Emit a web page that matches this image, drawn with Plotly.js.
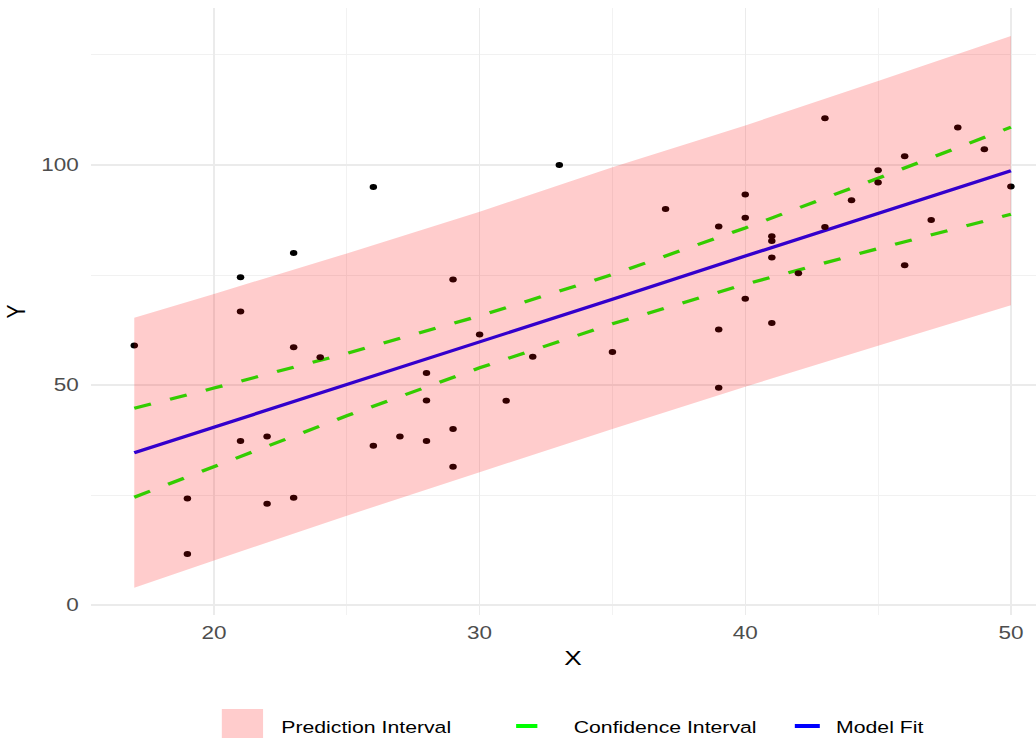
<!DOCTYPE html>
<html><head><meta charset="utf-8">
<script src="https://cdn.plot.ly/plotly-3.0.1.min.js"></script>
<style>
html,body{margin:0;padding:0;background:#fff;overflow:hidden;width:1036px;height:738px;}
#chart{width:844px;height:738px;transform:scaleX(1.2497);transform-origin:0 0;}
</style>
</head><body><div id="chart"></div>
<script>
// Observed points
const obsX = [17,19,19,21,21,21,22,22,23,23,23,24,26,26,27,28,28,28,29,29,29,30,31,32,33,35,37,39,39,39,40,40,40,41,41,41,41,42,43,43,44,45,45,46,46,47,48,49,50];
const obsY = [59,24.2,11.6,74.5,66.7,37.3,38.3,23,80,58.6,24.4,56.3,95,36.2,38.3,52.7,46.5,37.3,74,40,31.4,61.5,46.4,56.4,100,57.5,90,86,62.6,49.4,93.3,88,69.6,83.8,82.7,79,64.1,75.4,110.6,85.9,92,98.8,96,102,77.2,87.5,108.5,103.6,95.1];
// Fitted model & intervals
const gridX = [17,20,25,30,35,40,45,50];
const fitY = [34.6,40.4,50.1,59.8,69.5,79.3,89.0,98.7];
const confUpper = [44.7,49.3,57.2,65.7,75.1,85.7,97.0,108.6];
const confLower = [24.5,31.5,43.0,53.9,63.9,72.9,81.0,88.8];
const predUpper = [65.3,70.7,79.9,89.4,99.5,109.0,119.1,129.3];
const predLower = [3.9,10.1,20.3,30.2,40.0,49.6,58.9,68.1];
// Ticks and labels
const xTicks = [20,30,40,50];
const xMinor = [25,35,45];
const yTicks = [0,50,100];
const yMinor = [25,75,125];
const legendNames = ["Prediction Interval","Confidence Interval","Model Fit"];
const xTitle = "X", yTitle = "Y";

const FONT = "Liberation Sans, Arial, sans-serif";
const W = 844, H = 738, ML = 73, MR = 0, MT = 8, MB = 123;
const PW = W - ML - MR, PH = H - MT - MB;
const px = v => (v - ML) / PW;          // layout pixel -> paper x
const py = v => (H - MB - v) / PH;      // layout pixel -> paper y

const C_PRED = 'rgba(255,0,0,0.2)', C_CONF = '#00FF00', C_FIT = '#0000FF';

const fitTrace = {
  x: gridX, y: fitY, type: 'scatter', mode: 'lines', name: legendNames[2], showlegend: false,
  line: {color: C_FIT, width: 3.2}, hoverinfo: 'skip'
};
const ciTrace = {
  x: gridX.concat([null], gridX), y: confUpper.concat([null], confLower),
  type: 'scatter', mode: 'lines', name: legendNames[1], connectgaps: false, showlegend: false,
  line: {color: C_CONF, width: 3.2, dash: '14px,16px'}, hoverinfo: 'skip'
};
const pointTrace = {
  x: obsX, y: obsY, type: 'scatter', mode: 'markers', showlegend: false,
  marker: {color: '#000000', size: 6}, hoverinfo: 'skip'
};
const ribbonTrace = {
  x: gridX.concat(gridX.slice().reverse()),
  y: predUpper.concat(predLower.slice().reverse()),
  type: 'scatter', mode: 'none', fill: 'toself', fillcolor: C_PRED,
  name: legendNames[0], showlegend: false, hoverinfo: 'skip'
};

// Legend (keys + labels), positioned in layout pixels
const legendY = 727;
const shapes = [
  {type: 'rect', xref: 'paper', yref: 'paper', x0: px(177.5), x1: px(210.5), y0: py(740), y1: py(709),
   fillcolor: C_PRED, line: {width: 0}},
  {type: 'line', xref: 'paper', yref: 'paper', x0: px(413), x1: px(430), y0: py(726), y1: py(726),
   line: {color: C_CONF, width: 4}},
  {type: 'line', xref: 'paper', yref: 'paper', x0: px(636), x1: px(656), y0: py(726), y1: py(726),
   line: {color: C_FIT, width: 4}}
];
const legendTextX = [223, 456.5, 667];
const annotations = legendNames.map((t, i) => ({
  text: t, xref: 'paper', yref: 'paper', x: px(legendTextX[i]), y: py(legendY),
  xanchor: 'left', yanchor: 'middle', showarrow: false,
  font: {family: FONT, size: 17, color: '#000'}
}));

const layout = {
  width: W, height: H,
  margin: {l: ML, r: MR, t: MT, b: MB},
  paper_bgcolor: '#fff', plot_bgcolor: '#fff',
  font: {family: FONT},
  showlegend: false,
  shapes: shapes,
  annotations: annotations,
  xaxis: {
    range: [15.38, 51.65], tickvals: xTicks, ticks: '', showline: false, zeroline: false,
    gridcolor: '#EBEBEB', gridwidth: 1,
    minor: {tickvals: xMinor, showgrid: true, gridcolor: '#F1F1F1', gridwidth: 0.8, ticks: ''},
    tickfont: {family: FONT, size: 18, color: '#4D4D4D'},
    ticklabelstandoff: 5,
    title: {text: xTitle, font: {family: FONT, size: 21, color: '#000'}, standoff: 8}
  },
  yaxis: {
    range: [-2.27, 135.68], tickvals: yTicks, ticks: '', showline: false, zeroline: false,
    gridcolor: '#EBEBEB', gridwidth: 1.2,
    minor: {tickvals: yMinor, showgrid: true, gridcolor: '#F1F1F1', gridwidth: 1, ticks: ''},
    tickfont: {family: FONT, size: 18, color: '#4D4D4D'},
    ticklabelstandoff: 9,
    title: {text: yTitle, font: {family: FONT, size: 21, color: '#000'}, standoff: 6}
  }
};

Plotly.newPlot('chart', [fitTrace, ciTrace, pointTrace, ribbonTrace], layout, {displayModeBar: false, staticPlot: true});
</script>
</body></html>
